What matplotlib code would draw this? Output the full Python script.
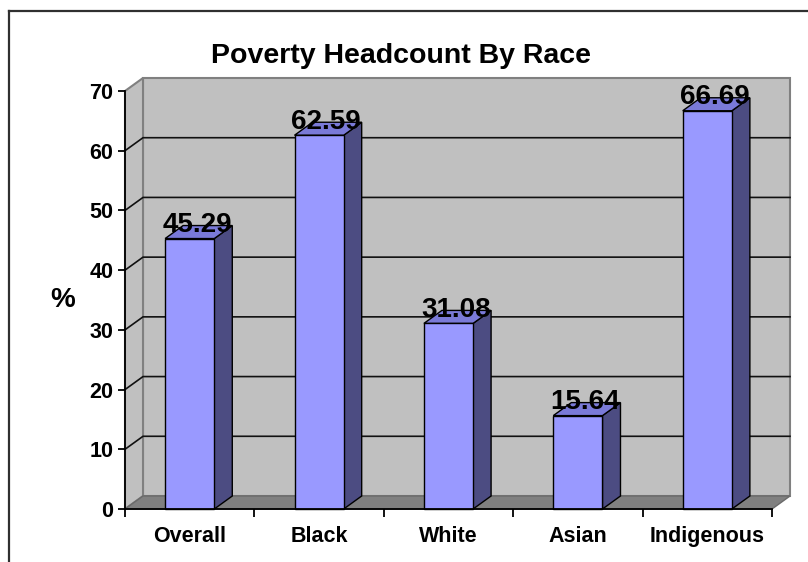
import matplotlib.pyplot as plt
import matplotlib.patches as patches
from matplotlib.lines import Line2D

categories = ['Overall', 'Black', 'White', 'Asian', 'Indigenous']
values = [45.29, 62.59, 31.08, 15.64, 66.69]
y_ticks = [0, 10, 20, 30, 40, 50, 60, 70]

plt.rcParams['font.family'] = ['Liberation Sans', 'DejaVu Sans']
plt.rcParams['font.weight'] = 'bold'

W, H = 808, 562
fig = plt.figure(figsize=(W / 100, H / 100), dpi=100)

# front plane of the plot area, in pixels
left, right, bottom, top = 125, 772, 509, 91
ax = fig.add_axes([left / W, 1 - bottom / H, (right - left) / W, (bottom - top) / H])
ax.set_xlim(-0.5, 4.5)
ax.set_ylim(0, 70)
ax.set_facecolor('none')

# depth of the 3d box, converted to data units
dx = 18 / ((right - left) / 5)
dy = 13 / ((bottom - top) / 70)

wall = '#C0C0C0'
edge = '#808080'

# back wall, side wall, floor
ax.add_patch(patches.Rectangle((-0.5 + dx, dy), 5, 70, fc=wall, ec=edge, lw=1.5,
                               clip_on=False, zorder=0))
ax.add_patch(patches.Polygon([(-0.5, 0), (-0.5, 70), (-0.5 + dx, 70 + dy), (-0.5 + dx, dy)],
                             closed=True, fc=wall, ec=edge, lw=1.5, clip_on=False, zorder=0))
ax.add_patch(patches.Polygon([(-0.5, 0), (4.5, 0), (4.5 + dx, dy), (-0.5 + dx, dy)],
                             closed=True, fc='#808080', ec='#6A6A6A', lw=1, clip_on=False, zorder=1))

# gridlines on the walls
for t in y_ticks[1:-1]:
    ax.plot([-0.5, -0.5 + dx, 4.5 + dx], [t, t + dy, t + dy], color='#111111', lw=1.2,
            clip_on=False, zorder=1)

# bars
bw = 0.38
for i, v in enumerate(values):
    x0, x1 = i - bw / 2, i + bw / 2
    ax.add_patch(patches.Polygon([(x1, 0), (x1 + dx, dy), (x1 + dx, v + dy), (x1, v)],
                                 closed=True, fc='#4C4C82', ec='black', lw=1, zorder=3,
                                 clip_on=False))
    ax.add_patch(patches.Polygon([(x0, v), (x1, v), (x1 + dx, v + dy), (x0 + dx, v + dy)],
                                 closed=True, fc='#7A7AD8', ec='black', lw=1, zorder=3,
                                 clip_on=False))
    ax.add_patch(patches.Rectangle((x0, 0), bw, v, fc='#9999FF', ec='black', lw=1, zorder=4,
                                   clip_on=False))
    ax.text(i + dx * 0.4, v + 1.1, f'{v:.2f}', ha='center', va='baseline', fontsize=20,
            fontweight='bold', color='black', zorder=6, clip_on=False)

for s in ['top', 'right']:
    ax.spines[s].set_visible(False)
for s in ['left', 'bottom']:
    ax.spines[s].set_linewidth(1.3)
    ax.spines[s].set_zorder(5)

ax.set_yticks(y_ticks)
ax.tick_params(axis='y', length=5, width=1.3, pad=3.5, labelsize=15.5)
ax.set_xticks(range(len(categories)))
ax.set_xticklabels(categories)
ax.set_xticks([i - 0.5 for i in range(len(categories) + 1)], minor=True)
ax.tick_params(axis='x', which='major', length=0, pad=12, labelsize=15.5)
ax.tick_params(axis='x', which='minor', length=6, width=1.3)

fig.text(63 / W, 1 - 300 / H, '%', fontsize=20, fontweight='bold', ha='center', va='center')
fig.text(401 / W, 1 - 63 / H, 'Poverty Headcount By Race', fontsize=20.5, fontweight='bold',
         ha='center', va='baseline')

# outer frame
fig.add_artist(Line2D([9 / W, 9 / W], [0, 1 - 11 / H], transform=fig.transFigure,
                      color='#303030', lw=1.6))
fig.add_artist(Line2D([9 / W, 1], [1 - 11 / H, 1 - 11 / H], transform=fig.transFigure,
                      color='#303030', lw=1.6))

fig.savefig('out.png', dpi=100)
